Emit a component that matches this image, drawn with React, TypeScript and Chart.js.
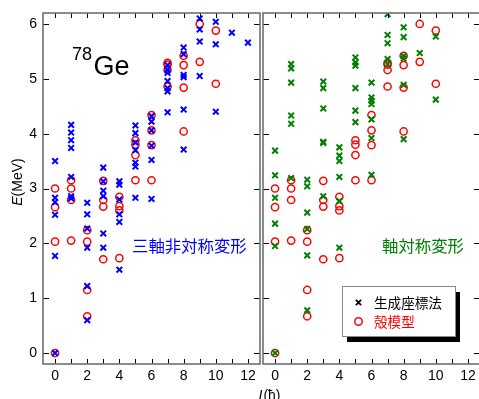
import React, { useEffect, useRef } from "react";
import { Chart, registerables } from "chart.js";

Chart.register(...registerables);

// ---- data ----
const spins = [0, 1, 2, 3, 4, 5, 6, 7, 8, 9, 10, 11, 12];
const xTickValues = [0, 1, 2, 3, 4, 5, 6, 7, 8, 9, 10, 11, 12];
const yTickValues = [0, 1, 2, 3, 4, 5, 6];

// Generator-coordinate method, triaxial deformation (blue), indexed by spin I
const triaxialGcm: number[][] = [
  [3.5, 2.83, 2.75, 2.52, 1.77, 0],
  [4.16, 4.02, 3.88, 3.74, 3.21, 2.86, 2.82],
  [2.74, 2.53, 2.27, 1.92, 1.22, 0.6],
  [3.38, 3.13, 2.96, 2.86, 2.18, 1.92],
  [3.13, 3.07, 2.8, 2.53, 2.39, 1.52],
  [4.15, 4.01, 3.84, 3.7, 3.47, 3.4, 2.83],
  [4.32, 4.22, 4.06, 3.78, 3.52, 2.81],
  [5.25, 5.16, 5.11, 4.96, 4.83, 4.77, 4.39],
  [5.57, 5.45, 5.07, 5.03, 4.44, 3.71],
  [6.1, 5.9, 5.68, 5.05],
  [6.04, 5.63, 4.4],
  [5.84],
  [5.66],
];

// Generator-coordinate method, axial deformation (green)
const axialGcm: number[][] = [
  [3.69, 3.24, 2.83, 2.36, 1.95, 0],
  [5.27, 5.19, 4.93, 4.33, 4.18, 3.19],
  [3.16, 3.04, 2.56, 2.26, 1.78, 0.78],
  [4.95, 4.83, 4.46, 3.85, 3.83, 2.86],
  [3.75, 3.6, 3.5, 3.21, 2.77, 1.92],
  [5.39, 5.3, 5.24, 4.83, 4.42, 4.21],
  [4.93, 4.66, 4.6, 4.54, 4.26, 3.92, 3.25],
  [6.18, 5.8, 5.65, 5.36, 5.27],
  [5.94, 5.76, 5.42, 5.37, 4.89, 3.9],
  [5.47],
  [5.77, 4.62],
];

// Shell model (red circles)
const shellModel: number[][] = [
  [3.0, 2.66, 2.03, 0],
  [3.15, 3.0, 2.79, 2.05],
  [2.24, 2.03, 1.15, 0.67],
  [3.14, 2.79, 2.67, 1.71],
  [2.85, 2.68, 2.6, 1.73],
  [3.88, 3.8, 3.61, 3.15],
  [4.34, 4.06, 3.79, 3.15],
  [5.29, 5.26, 5.16, 4.86],
  [5.42, 5.25, 4.84, 4.04],
  [6.0, 5.31],
  [5.88, 4.91],
];

const legendLabels = ["生成座標法", "殻模型"];
const leftPanelLabel = "三軸非対称変形";
const rightPanelLabel = "軸対称変形";

// ---- styling ----
const X_MIN = -0.75;
const X_MAX = 12.75;
const Y_MIN = -0.2;
const Y_MAX = 6.2;
const BLUE = "#0000ff";
const RED = "#ff0000";
const GREEN = "#008000";
const FRAME = "#707070";
const NUM_FONT = '"Liberation Sans", Arial, sans-serif';
const CJK_FONT = '"Noto Sans CJK JP", "Noto Sans CJK SC", sans-serif';

function toPoints(levels: number[][]) {
  const pts: { x: number; y: number }[] = [];
  levels.forEach((es, i) => es.forEach((e) => pts.push({ x: spins[i], y: e })));
  return pts;
}

const frameTicksPlugin = {
  id: "frameTicks",
  afterDatasetsDraw(chart: any) {
    const { ctx, chartArea: a, scales } = chart;
    const xs = scales.x;
    const ys = scales.y;
    const L = 5;
    ctx.save();
    ctx.strokeStyle = "#000";
    ctx.lineWidth = 1;
    ctx.beginPath();
    for (const v of xTickValues) {
      const px = Math.round(xs.getPixelForValue(v)) + 0.5;
      ctx.moveTo(px, a.bottom);
      ctx.lineTo(px, a.bottom - L);
      ctx.moveTo(px, a.top);
      ctx.lineTo(px, a.top + L);
    }
    for (const v of yTickValues) {
      const py = Math.round(ys.getPixelForValue(v)) + 0.5;
      ctx.moveTo(a.left, py);
      ctx.lineTo(a.left + L + 1, py);
      ctx.moveTo(a.right, py);
      ctx.lineTo(a.right - L - 1, py);
    }
    ctx.stroke();
    ctx.strokeStyle = FRAME;
    ctx.lineWidth = 1.6;
    ctx.strokeRect(a.left, a.top, a.right - a.left, a.bottom - a.top);
    ctx.restore();
  },
};

function baseOptions(xMax: number, padding: any, showY: boolean): any {
  return {
    animation: false,
    responsive: false,
    maintainAspectRatio: false,
    events: [],
    layout: { padding },
    plugins: { legend: { display: false }, tooltip: { enabled: false } },
    scales: {
      x: {
        type: "linear",
        min: X_MIN,
        max: xMax,
        grid: { display: false, drawTicks: false },
        border: { display: false },
        afterBuildTicks: (s: any) => {
          s.ticks = xTickValues.map((v) => ({ value: v }));
        },
        afterFit: (s: any) => {
          s.height = 35;
          s.paddingLeft = 0;
          s.paddingRight = 0;
        },
        ticks: {
          autoSkip: false,
          maxRotation: 0,
          padding: 4,
          color: "#000",
          font: { family: NUM_FONT, size: 14 },
          callback: (v: any) => (Number(v) % 2 === 0 ? String(v) : ""),
        },
      },
      y: {
        type: "linear",
        display: showY,
        min: Y_MIN,
        max: Y_MAX,
        grid: { display: false, drawTicks: false },
        border: { display: false },
        afterBuildTicks: (s: any) => {
          s.ticks = yTickValues.map((v) => ({ value: v }));
        },
        afterFit: (s: any) => {
          s.width = showY ? 43 : 0;
          s.paddingTop = 0;
          s.paddingBottom = 0;
        },
        ticks: {
          padding: 6,
          color: "#000",
          font: { family: NUM_FONT, size: 14 },
          callback: (v: any) => String(v),
        },
      },
    },
  };
}

const leftTextPlugin = {
  id: "leftText",
  afterDraw(chart: any) {
    const ctx = chart.ctx;
    ctx.save();
    ctx.fillStyle = "#000";
    ctx.textBaseline = "alphabetic";
    ctx.textAlign = "left";
    ctx.font = `18px ${NUM_FONT}`;
    ctx.fillText("78", 72, 60);
    ctx.font = `27px ${NUM_FONT}`;
    ctx.fillText("Ge", 93.5, 74.5);

    ctx.fillStyle = BLUE;
    ctx.font = `16.4px ${CJK_FONT}`;
    ctx.textBaseline = "middle";
    ctx.fillText(leftPanelLabel, 132, 246);

    // y-axis title E(MeV), rotated
    ctx.fillStyle = "#000";
    ctx.translate(18, 182);
    ctx.rotate(-Math.PI / 2);
    ctx.textBaseline = "middle";
    ctx.font = `italic 14px ${NUM_FONT}`;
    const wE = ctx.measureText("E").width;
    ctx.font = `14px ${NUM_FONT}`;
    const wRest = ctx.measureText("(MeV)").width;
    const start = -(wE + wRest) / 2;
    ctx.font = `italic 14px ${NUM_FONT}`;
    ctx.fillText("E", start, 0);
    ctx.font = `14px ${NUM_FONT}`;
    ctx.fillText("(MeV)", start + wE, 0);
    ctx.restore();
  },
};

const rightTextPlugin = {
  id: "rightText",
  afterDraw(chart: any) {
    const ctx = chart.ctx;
    ctx.save();
    ctx.fillStyle = GREEN;
    ctx.font = `16.4px ${CJK_FONT}`;
    ctx.textBaseline = "middle";
    ctx.textAlign = "left";
    ctx.fillText(rightPanelLabel, 382, 246);

    // legend box with shadow
    const bx = 342, by = 286, bw = 113, bh = 50;
    ctx.fillStyle = "#000";
    ctx.fillRect(bx + 5, by + 6, bw, bh);
    ctx.fillStyle = "#fff";
    ctx.fillRect(bx, by, bw, bh);
    ctx.strokeStyle = "#888";
    ctx.lineWidth = 1;
    ctx.strokeRect(bx + 0.5, by + 0.5, bw, bh);

    // entry 1: cross
    ctx.strokeStyle = "#000";
    ctx.lineWidth = 1.8;
    const cx = 358.5, cy1 = 302.5, r = 2.6;
    ctx.beginPath();
    ctx.moveTo(cx - r, cy1 - r);
    ctx.lineTo(cx + r, cy1 + r);
    ctx.moveTo(cx - r, cy1 + r);
    ctx.lineTo(cx + r, cy1 - r);
    ctx.stroke();
    ctx.fillStyle = "#000";
    ctx.font = `13.6px ${CJK_FONT}`;
    ctx.fillText(legendLabels[0], 374, cy1);

    // entry 2: circle
    const cy2 = 321.5;
    ctx.strokeStyle = RED;
    ctx.lineWidth = 1.5;
    ctx.beginPath();
    ctx.arc(cx, cy2, 3.7, 0, Math.PI * 2);
    ctx.stroke();
    ctx.fillStyle = RED;
    ctx.fillText(legendLabels[1], 374, cy2);

    // x-axis title I(ħ)
    ctx.fillStyle = "#000";
    ctx.textBaseline = "alphabetic";
    ctx.font = `italic 14px ${NUM_FONT}`;
    const wI = ctx.measureText("I").width;
    ctx.font = `14px ${NUM_FONT}`;
    const wR = ctx.measureText("(ħ)").width;
    const sx = 269 - (wI + wR) / 2;
    ctx.font = `italic 14px ${NUM_FONT}`;
    ctx.fillText("I", sx, 400);
    ctx.font = `14px ${NUM_FONT}`;
    ctx.fillText("(ħ)", sx + wI + 1, 400);
    ctx.restore();
  },
};

export default function App() {
  const leftRef = useRef<HTMLCanvasElement | null>(null);
  const rightRef = useRef<HTMLCanvasElement | null>(null);

  useEffect(() => {
    const crossStyle = (color: string) => ({
      pointStyle: "crossRot",
      pointRadius: 4,
      pointBorderWidth: 2,
      borderColor: color,
      backgroundColor: color,
      pointBorderColor: color,
    });
    const circleStyle = {
      pointStyle: "circle",
      pointRadius: 3.6,
      pointBorderWidth: 1.5,
      borderColor: RED,
      pointBorderColor: RED,
      backgroundColor: "rgba(0,0,0,0)",
      pointBackgroundColor: "rgba(0,0,0,0)",
    };

    const left = new Chart(leftRef.current as HTMLCanvasElement, {
      type: "scatter",
      data: {
        datasets: [
          { label: legendLabels[0], data: toPoints(triaxialGcm), ...crossStyle(BLUE) } as any,
          { label: legendLabels[1], data: toPoints(shellModel), ...circleStyle } as any,
        ],
      },
      options: baseOptions(X_MAX, { left: 0, top: 13, right: 479 - 260, bottom: 0 }, true),
      plugins: [frameTicksPlugin, leftTextPlugin],
    });

    const right = new Chart(rightRef.current as HTMLCanvasElement, {
      type: "scatter",
      data: {
        datasets: [
          { label: legendLabels[0], data: toPoints(axialGcm), ...crossStyle(GREEN) } as any,
          { label: legendLabels[1], data: toPoints(shellModel), ...circleStyle } as any,
        ],
      },
      options: baseOptions(X_MAX, { left: 263, top: 13, right: 10, bottom: 0 }, false),
      plugins: [frameTicksPlugin, rightTextPlugin],
    });

    return () => {
      left.destroy();
      right.destroy();
    };
  }, []);

  return (
    <div
      style={{
        position: "fixed",
        left: 0,
        top: 0,
        width: 479,
        height: 399,
        overflow: "hidden",
        background: "#fff",
      }}
    >
      <canvas
        ref={leftRef}
        width={479}
        height={399}
        style={{ position: "absolute", left: 0, top: 0, width: 479, height: 399 }}
      />
      <canvas
        ref={rightRef}
        width={490}
        height={399}
        style={{ position: "absolute", left: 0, top: 0, width: 490, height: 399 }}
      />
    </div>
  );
}
